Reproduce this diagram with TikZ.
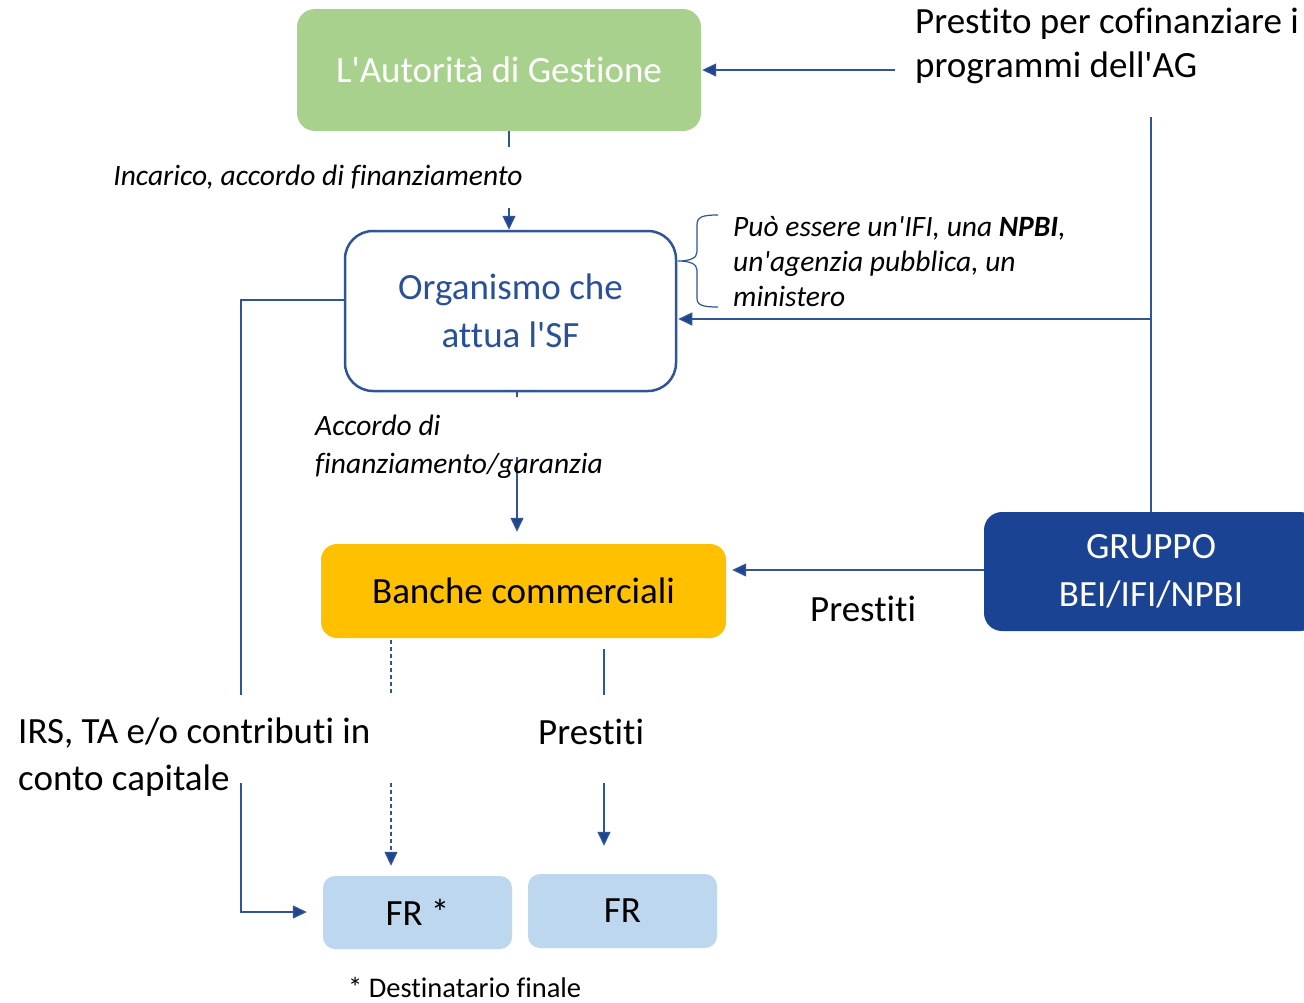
\documentclass[tikz,border=0pt]{standalone}
\usepackage{fontspec}
\setmainfont{Carlito}[Ligatures={NoCommon}]
\usetikzlibrary{arrows.meta,calc}
\definecolor{agreen}{HTML}{A9D18E}
\definecolor{ayellow}{HTML}{FFC000}
\definecolor{adark}{HTML}{1B4393}
\definecolor{alight}{HTML}{BDD7EE}
\definecolor{aline}{HTML}{2F5597}
\definecolor{atip}{HTML}{1F4591}
\definecolor{atext}{HTML}{2A509A}
\newcommand{\apo}{\textquotesingle}
\begin{document}
\begin{tikzpicture}[x=1pt,y=-1pt,
  bigfont/.style={font=\fontsize{37}{44}\selectfont},
  smallit/.style={font=\fontsize{29.5}{36}\selectfont\itshape},
  boxnode/.style={rectangle, inner sep=0pt, align=center},
  conn/.style={draw=aline, line width=1.3pt},
  arr/.style={conn, -{Triangle[length=14pt,width=13pt,fill=atip]}},
  lbl/.style={inner sep=0pt, anchor=base west, align=left}]
\clip (0,0) rectangle (1304,1002);
\fill[white] (0,0) rectangle (1304,1002);

% boxes
\node[boxnode, fill=agreen, rounded corners=18pt, minimum width=404pt, minimum height=122pt,
      text=white, bigfont] (AG) at (499,70) {L\apo Autorità di Gestione};
\node[boxnode, fill=white, draw=aline, line width=2.5pt, rounded corners=28pt,
      minimum width=331pt, minimum height=160pt, text=atext,
      font=\fontsize{37}{48}\selectfont] (Org) at (510.5,311) {Organismo che\\attua l\apo SF};
\node[boxnode, fill=ayellow, rounded corners=16pt, minimum width=405pt, minimum height=94pt,
      bigfont] (Ban) at (523.5,591) {Banche commerciali};
\node[boxnode, fill=adark, rounded corners=18pt, minimum width=334pt, minimum height=119pt,
      text=white, font=\fontsize{37}{48}\selectfont] (GR) at (1151,571.5) {GRUPPO\\BEI/IFI/NPBI};
\node[boxnode, fill=alight, rounded corners=12pt, minimum width=189pt, minimum height=73pt,
      bigfont] (FRa) at (417.5,912.5) {FR *};
\node[boxnode, fill=alight, rounded corners=12pt, minimum width=189pt, minimum height=74pt,
      bigfont] (FRb) at (622.5,911) {FR};

% coordinates
\coordinate (ptext) at (895,70);
\coordinate (xa) at (509,0);
\coordinate (xb) at (517,0);
\coordinate (gtop) at (1151,117);
\coordinate (gj) at (1151,319);
\coordinate (yg) at (0,570);
\coordinate (yl) at (0,300);
\coordinate (l1) at (241,300);
\coordinate (l2) at (241,695);
\coordinate (l3) at (241,783);
\coordinate (l4) at (241,912);
\coordinate (b1) at (517,397);
\coordinate (b2) at (517,457);
\coordinate (d1) at (391,640);
\coordinate (d2) at (391,695);
\coordinate (d3) at (391,783);
\coordinate (s1) at (604,649);
\coordinate (s2) at (604,695);
\coordinate (s3) at (604,783);

% connectors
\draw[arr] (ptext) -- ($(AG.east)+(1,0)$);
\draw[arr] (AG.south -| xa) -- (Org.north -| xa);
\node[smallit, fill=white, inner xsep=4pt, inner ysep=0pt, anchor=base, text height=38pt, text depth=23pt]
  (linc) at (318,185) {Incarico, accordo di finanziamento};
\draw[conn] (GR.north -| gtop) -- (gtop);
\draw[arr] (gj) -- ($(Org.east |- gj)+(1,0)$);
\draw[conn] (Org.south -| xb) -- (b1);
\draw[arr, shorten >=12pt] (b2) -- (Ban.north -| xb);
\draw[arr, shorten >=6pt] (GR.west |- yg) -- (Ban.east |- yg);
\draw[conn] (Org.west |- yl) -- (l1) -- (l2);
\draw[arr, shorten >=16pt] (l3) -- (l4) -- (FRa.west |- l4);
\draw[conn, dash pattern=on 4pt off 3pt] (d1) -- (d2);
\draw[arr, dash pattern=on 4pt off 3pt, shorten >=10pt] (d3) -- (FRa.north -| d3);
\draw[conn] (s1) -- (s2);
\draw[arr, shorten >=28pt] (s3) -- (FRb.north -| s3);

% brace
\draw[aline, line width=1.2pt]
  (718,215) .. controls (702,215) and (697,217) .. (697,225) -- (697,252)
  .. controls (697,258) and (690,261) .. (678,261)
  .. controls (690,261) and (697,264) .. (697,270) -- (697,298)
  .. controls (697,305) and (702,307) .. (718,307);

% labels (base anchor = baseline of last line)
\node[lbl, bigfont] (lpre) at (915,77) {Prestito per cofinanziare i\\programmi dell\apo AG};
\node[lbl, font=\fontsize{29.5}{35}\selectfont\itshape] (lpuo) at (733,306)
  {Può essere un\apo IFI, una \textbf{NPBI}, \\un\apo agenzia pubblica, un\\ministero};
\node[lbl, font=\fontsize{29.5}{38}\selectfont\itshape] (lacc) at (315,473)
  {Accordo di\\finanziamento/garanzia};
\node[lbl, bigfont] (lpr1) at (810,621) {Prestiti};
\node[lbl, font=\fontsize{37}{47}\selectfont] (lirs) at (18,790) {IRS, TA e/o contributi in\\conto capitale};
\node[lbl, bigfont] (lpr2) at (538,744) {Prestiti};
\node[lbl, font=\fontsize{28.5}{34}\selectfont] (ldest) at (348,997) {* Destinatario finale};
\end{tikzpicture}
\end{document}
